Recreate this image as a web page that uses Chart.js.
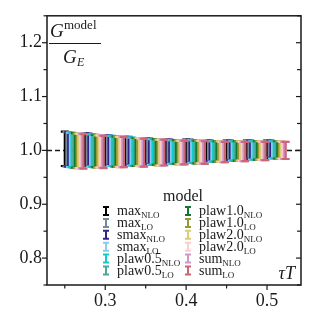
<!DOCTYPE html>
<html>
<head>
<meta charset="utf-8">
<script src="https://cdn.jsdelivr.net/npm/chart.js@4/dist/chart.umd.min.js"></script>
<style>
  html, body { margin: 0; padding: 0; background: #fff; }
  #wrap { width: 317px; height: 317px; }
</style>
</head>
<body>
<div id="wrap"><canvas id="ratioChart" width="317" height="317"></canvas></div>
<script>
// tau*T points and shared error per point
const tauT = [0.25, 0.275, 0.3, 0.325, 0.35, 0.375, 0.4, 0.425, 0.45, 0.475, 0.5];
const errors = [0.032, 0.030, 0.028, 0.026, 0.024, 0.022, 0.021, 0.019, 0.018, 0.017, 0.016];

// G^model / G_E for each model
const maxNLO    = [1.003, 1.002, 1.000, 0.999, 0.998, 0.998, 0.999, 0.999, 1.000, 1.001, 1.002];
const maxLO     = [1.002, 1.001, 0.999, 0.998, 0.998, 0.998, 0.998, 0.999, 1.000, 1.001, 1.002];
const smaxNLO   = [1.002, 1.001, 1.000, 0.999, 0.998, 0.998, 0.999, 0.999, 1.000, 1.001, 1.002];
const smaxLO    = [1.001, 1.000, 0.999, 0.998, 0.997, 0.997, 0.998, 0.998, 0.999, 1.000, 1.001];
const plaw05NLO = [1.001, 1.000, 0.999, 0.998, 0.997, 0.997, 0.998, 0.998, 0.999, 1.000, 1.001];
const plaw05LO  = [1.000, 0.999, 0.998, 0.997, 0.997, 0.997, 0.997, 0.998, 0.999, 1.000, 1.001];
const plaw10NLO = [1.000, 0.999, 0.998, 0.997, 0.997, 0.997, 0.997, 0.998, 0.999, 1.000, 1.001];
const plaw10LO  = [0.999, 0.998, 0.998, 0.997, 0.996, 0.996, 0.997, 0.998, 0.999, 1.000, 1.001];
const plaw20NLO = [0.999, 0.998, 0.997, 0.997, 0.996, 0.996, 0.997, 0.998, 0.999, 1.000, 1.001];
const plaw20LO  = [0.999, 0.998, 0.997, 0.996, 0.996, 0.996, 0.997, 0.997, 0.998, 0.999, 1.000];
const sumNLO    = [0.999, 0.998, 0.997, 0.996, 0.996, 0.996, 0.997, 0.997, 0.998, 0.999, 1.000];
const sumLO     = [0.998, 0.997, 0.997, 0.996, 0.996, 0.996, 0.996, 0.997, 0.998, 0.999, 1.000];

const seriesValues = [maxNLO, maxLO, smaxNLO, smaxLO, plaw05NLO, plaw05LO,
                      plaw10NLO, plaw10LO, plaw20NLO, plaw20LO, sumNLO, sumLO];
const seriesNames = [['max', 'NLO'], ['max', 'LO'], ['smax', 'NLO'], ['smax', 'LO'],
                     ['plaw0.5', 'NLO'], ['plaw0.5', 'LO'], ['plaw1.0', 'NLO'], ['plaw1.0', 'LO'],
                     ['plaw2.0', 'NLO'], ['plaw2.0', 'LO'], ['sum', 'NLO'], ['sum', 'LO']];
const seriesColors = ['#000000', '#778899', '#332288', '#88ccee', '#11cccc', '#44aa99',
                      '#117733', '#999933', '#ddcc77', '#ffcccc', '#cc99cc', '#cc6677'];

// axis ticks
const xTicks = [0.3, 0.4, 0.5];
const xMinor = [0.25, 0.35, 0.45];
const yTicks = [0.8, 0.9, 1.0, 1.1, 1.2];
const yMinor = [0.75, 0.85, 0.95, 1.05, 1.15, 1.25];

const serif = '"Liberation Serif", "DejaVu Serif", serif';
const ink = '#1a1a1a';
const dodge = 0.0021;

const datasets = seriesValues.map((vals, i) => ({
    label: seriesNames[i].join(''),
    data: tauT.map((t, j) => ({ x: t + i * dodge, y: vals[j], yMin: vals[j] - errors[j], yMax: vals[j] + errors[j] })),
    borderColor: seriesColors[i],
    backgroundColor: seriesColors[i],
    pointRadius: 0,
    showLine: false
}));

// draws the error bars from the data through the scales
const errorBars = {
    id: 'errorBars',
    afterDatasetsDraw(chart) {
        const { ctx, chartArea, scales: { x, y } } = chart;
        ctx.save();
        ctx.beginPath();
        ctx.rect(chartArea.left, chartArea.top, chartArea.width, chartArea.height);
        ctx.clip();
        const cap = 4;
        chart.data.datasets.forEach(ds => {
            ctx.strokeStyle = ds.borderColor;
            ctx.lineWidth = 2.2;
            ds.data.forEach(p => {
                const px = x.getPixelForValue(p.x);
                const top = y.getPixelForValue(p.yMax);
                const bot = y.getPixelForValue(p.yMin);
                ctx.beginPath();
                ctx.moveTo(px, top);
                ctx.lineTo(px, bot);
                ctx.moveTo(px - cap, top);
                ctx.lineTo(px + cap, top);
                ctx.moveTo(px - cap, bot);
                ctx.lineTo(px + cap, bot);
                ctx.stroke();
            });
        });
        ctx.restore();
    }
};

// reference line at 1, frame, ticks, axis labels and legend
const decorations = {
    id: 'decorations',
    beforeDatasetsDraw(chart) {
        const { ctx, chartArea, scales: { y } } = chart;
        const py = y.getPixelForValue(1.0);
        ctx.save();
        ctx.strokeStyle = ink;
        ctx.lineWidth = 1.5;
        ctx.setLineDash([5, 3]);
        ctx.beginPath();
        ctx.moveTo(chartArea.left, py);
        ctx.lineTo(chartArea.right, py);
        ctx.stroke();
        ctx.restore();
    },
    afterDraw(chart) {
        const { ctx, chartArea: a, scales: { x, y } } = chart;
        ctx.save();
        ctx.strokeStyle = ink;
        ctx.lineWidth = 1.5;
        ctx.strokeRect(a.left, a.top, a.width, a.height);

        ctx.lineWidth = 1.2;
        const tick = (x1, y1, x2, y2) => { ctx.beginPath(); ctx.moveTo(x1, y1); ctx.lineTo(x2, y2); ctx.stroke(); };
        yTicks.forEach(v => {
            const py = y.getPixelForValue(v);
            tick(a.left - 5, py, a.left, py);
            tick(a.right - 5, py, a.right, py);
        });
        yMinor.forEach(v => {
            const py = y.getPixelForValue(v);
            tick(a.left - 3.5, py, a.left, py);
            tick(a.right - 4, py, a.right, py);
        });
        xTicks.forEach(v => {
            const px = x.getPixelForValue(v);
            tick(px, a.bottom, px, a.bottom + 5);
        });
        xMinor.forEach(v => {
            const px = x.getPixelForValue(v);
            tick(px, a.bottom, px, a.bottom + 3.5);
        });

        // y label as a fraction
        ctx.fillStyle = ink;
        ctx.textBaseline = 'alphabetic';
        ctx.textAlign = 'left';
        ctx.font = 'italic 19px ' + serif;
        ctx.fillText('G', 50, 37);
        ctx.font = '13px ' + serif;
        ctx.fillText('model', 64, 29);
        ctx.lineWidth = 1;
        tick(49, 43.5, 101, 43.5);
        ctx.font = 'italic 19px ' + serif;
        ctx.fillText('G', 63, 63);
        ctx.font = 'italic 12px ' + serif;
        ctx.fillText('E', 77, 66);

        // x label
        ctx.font = 'italic 18px ' + serif;
        ctx.textAlign = 'right';
        ctx.fillText('\u03c4T', 295, 279);

        // legend
        ctx.textAlign = 'center';
        ctx.font = '16px ' + serif;
        ctx.fillText('model', 183, 201);
        const cols = [{ mx: 106, tx: 117 }, { mx: 188, tx: 199 }];
        seriesNames.forEach((nm, i) => {
            const col = cols[Math.floor(i / 6)];
            const ry = 211 + (i % 6) * 11.9;
            ctx.strokeStyle = seriesColors[i];
            ctx.lineWidth = 2;
            ctx.beginPath();
            ctx.moveTo(col.mx, ry - 4); ctx.lineTo(col.mx, ry + 4);
            ctx.moveTo(col.mx - 3, ry - 4); ctx.lineTo(col.mx + 3, ry - 4);
            ctx.moveTo(col.mx - 3, ry + 4); ctx.lineTo(col.mx + 3, ry + 4);
            ctx.stroke();
            ctx.textAlign = 'left';
            ctx.font = '14px ' + serif;
            ctx.fillText(nm[0], col.tx, ry + 4);
            const w = ctx.measureText(nm[0]).width;
            ctx.font = '9px ' + serif;
            ctx.fillText(nm[1], col.tx + w, ry + 7);
        });
        ctx.restore();
    }
};

Chart.defaults.font.family = serif;
Chart.defaults.color = ink;

const ratioChart = new Chart(document.getElementById('ratioChart').getContext('2d'), {
    type: 'scatter',
    data: { datasets: datasets },
    options: {
        responsive: false,
        animation: false,
        layout: { padding: { top: 15, right: 16, left: 0, bottom: 0 } },
        plugins: { legend: { display: false }, tooltip: { enabled: false } },
        scales: {
            x: {
                type: 'linear',
                min: 0.228,
                max: 0.542,
                grid: { display: false, drawTicks: false },
                border: { display: false },
                afterBuildTicks: s => { s.ticks = xTicks.map(v => ({ value: v })); },
                afterFit: s => { s.height = 32; },
                ticks: { padding: 5, font: { size: 18 }, maxRotation: 0, callback: v => v.toFixed(1) }
            },
            y: {
                min: 0.75,
                max: 1.25,
                grid: { display: false, drawTicks: false },
                border: { display: false },
                afterBuildTicks: s => { s.ticks = yTicks.map(v => ({ value: v })); },
                afterFit: s => { s.width = 47; },
                ticks: { padding: 5, font: { size: 18 }, callback: v => v.toFixed(1) }
            }
        }
    },
    plugins: [errorBars, decorations]
});
</script>
</body>
</html>
